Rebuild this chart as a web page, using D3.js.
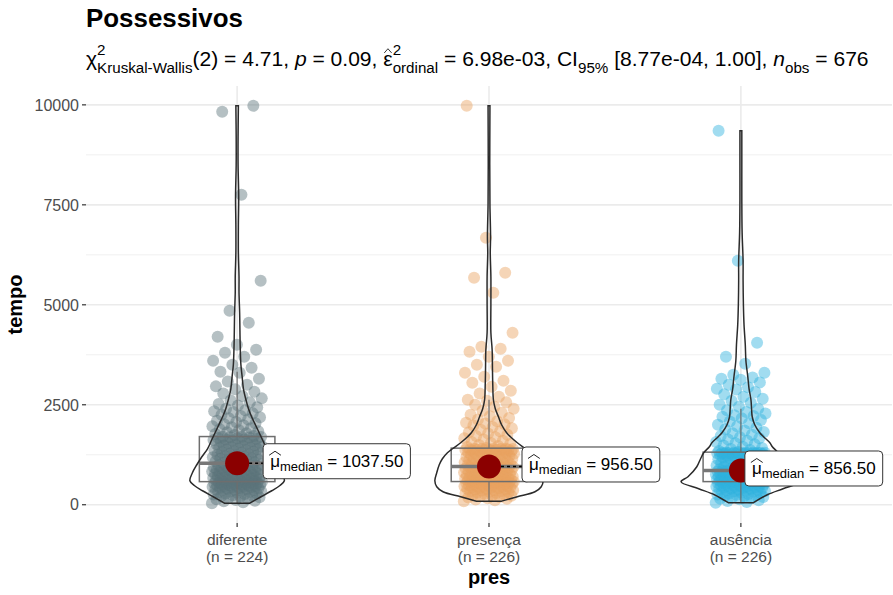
<!DOCTYPE html>
<html>
<head>
<meta charset="utf-8">
<script src="https://cdn.jsdelivr.net/npm/d3@7"></script>
<style>
  body { margin: 0; background: #fff; }
  text { font-family: "Liberation Sans", Arial, sans-serif; white-space: pre; }
</style>
</head>
<body>
<svg id="chart" width="893" height="595"></svg>
<script>
// ---- data ----
const groups = ["diferente", "presença", "ausência"];

const diferente = [
  40, 60, 85, 100, 120, 140, 150, 170, 185, 200, 210, 230, 240, 255, 270, 280, 290, 300, 310, 320,
  330, 340, 350, 360, 370, 375, 385, 395, 400, 410, 420, 425, 435, 440, 450, 455, 460, 470, 475, 480,
  490, 495, 500, 505, 510, 520, 525, 530, 535, 540, 545, 550, 555, 560, 565, 570,
  580, 590, 598, 605, 612, 620, 628, 635, 640, 648, 655, 662, 670, 678, 685, 690, 700, 708, 715, 722,
  730, 738, 745, 752, 760, 768, 775, 782, 790, 800, 808, 815, 822, 830, 840, 848, 855, 862, 870, 880,
  888, 895, 905, 912, 920, 930, 940, 950, 958, 965, 975, 985, 995, 1005, 1015, 1030,
  1045, 1060, 1072, 1085, 1098, 1110, 1122, 1135, 1148, 1160, 1172, 1185, 1198, 1210, 1225, 1238, 1250, 1262, 1275, 1290,
  1302, 1315, 1328, 1340, 1355, 1368, 1380, 1392, 1405, 1420, 1432, 1445, 1458, 1470, 1482, 1495, 1508, 1520, 1532, 1545,
  1558, 1570, 1582, 1595, 1605, 1618, 1630, 1640, 1652, 1662, 1672, 1680, 1688, 1694, 1698, 1700,
  1720, 1745, 1770, 1790, 1815, 1840, 1860, 1885, 1910, 1935, 1960, 1985, 2010, 2040, 2070, 2100, 2130, 2160, 2190, 2220,
  2250, 2285, 2320, 2340, 2360, 2400, 2440, 2480, 2520, 2560, 2610, 2660, 2720, 2780, 2825, 2890, 2960, 3000, 3080, 3150,
  3300, 3325, 3425, 3500, 3600, 3700, 3800, 3875, 4000, 4200, 4550, 4850, 5600, 7750, 9825, 9975
];
const presenca = [
  90, 110, 130, 150, 165, 180, 195, 210, 222, 235, 248, 260, 272, 285, 295, 305, 315, 325, 335, 345,
  355, 362, 370, 378, 386, 394, 402, 410, 418, 425, 432, 440, 447, 454, 461, 468, 475, 482, 489, 496,
  503, 510, 516, 522, 528, 534, 540, 545, 550, 555, 559, 563, 566, 569, 572, 574,
  578, 585, 592, 598, 604, 610, 616, 622, 628, 634, 640, 646, 652, 658, 664, 670, 677, 684, 691, 698,
  705, 712, 719, 726, 733, 740, 748, 756, 764, 772, 780, 788, 796, 804, 812, 820, 828, 836, 844, 852,
  860, 868, 876, 884, 892, 900, 906, 912, 918, 924, 930, 935, 940, 944, 947, 949, 950,
  963, 975, 985, 995, 1005, 1015, 1025, 1035, 1045, 1055, 1065, 1075, 1085, 1095, 1105, 1115, 1125, 1135, 1145, 1155,
  1165, 1175, 1185, 1195, 1205, 1215, 1225, 1235, 1245, 1255, 1265, 1275, 1285, 1292, 1300, 1308, 1315, 1322, 1330, 1337,
  1344, 1350, 1356, 1362, 1368, 1373, 1378, 1382, 1386, 1389, 1392, 1394, 1396, 1398, 1399, 1400,
  1420, 1445, 1470, 1495, 1520, 1545, 1570, 1600, 1630, 1660, 1690, 1720, 1750, 1780, 1810, 1840, 1875, 1910, 1945, 1980,
  2015, 2030, 2050, 2090, 2130, 2170, 2210, 2250, 2300, 2350, 2400, 2450, 2500, 2560, 2600, 2625, 2700, 2780, 2850, 2950,
  3050, 3100, 3200, 3300, 3450, 3500, 3600, 3700, 3825, 3900, 3950, 4300, 5300, 5675, 5800, 6675, 9975
];
const ausencia = [
  50, 70, 95, 115, 135, 150, 165, 180, 195, 210, 222, 235, 247, 258, 270, 282, 293, 304, 315, 325,
  335, 345, 355, 364, 373, 382, 391, 400, 408, 416, 424, 432, 440, 448, 455, 462, 469, 476, 483, 490,
  497, 504, 510, 516, 522, 528, 534, 540, 545, 550, 555, 559, 563, 567, 570, 573,
  577, 582, 587, 592, 597, 602, 607, 612, 617, 622, 627, 632, 637, 642, 647, 652, 658, 664, 670, 676,
  682, 688, 694, 700, 706, 712, 718, 724, 730, 736, 742, 748, 754, 760, 766, 772, 778, 784, 790, 796,
  802, 808, 814, 819, 824, 829, 833, 836, 839, 841, 843, 845, 846, 847, 848, 849, 850,
  863, 875, 887, 899, 911, 923, 935, 947, 959, 971, 983, 995, 1007, 1019, 1031, 1043, 1055, 1067, 1079, 1091,
  1103, 1115, 1127, 1139, 1150, 1160, 1170, 1180, 1190, 1200, 1208, 1216, 1224, 1232, 1240, 1247, 1254, 1260, 1266, 1271,
  1276, 1280, 1284, 1287, 1290, 1292, 1294, 1295, 1296, 1297, 1298, 1299, 1299, 1300, 1300, 1300,
  1320, 1345, 1370, 1395, 1420, 1450, 1480, 1510, 1540, 1570, 1600, 1630, 1660, 1690, 1720, 1750, 1785, 1820, 1855, 1890,
  1925, 1960, 2000, 2040, 2080, 2120, 2160, 2200, 2220, 2240, 2280, 2320, 2360, 2400, 2450, 2500, 2550, 2600, 2650, 2700,
  2760, 2820, 2880, 2900, 2940, 3000, 3060, 3125, 3150, 3180, 3250, 3300, 3525, 3700, 4050, 6100, 9350
];

// violin outlines: [tempo, relative density]
const violinDiferente = [
  [40, 0.2], [200, 0.38], [350, 0.55], [480, 0.68], [600, 0.75], [800, 0.71], [1000, 0.64], [1200, 0.56],
  [1400, 0.47], [1600, 0.41], [1800, 0.35], [2000, 0.29], [2200, 0.23], [2400, 0.18], [2625, 0.14],
  [2900, 0.1], [3200, 0.08], [3500, 0.06], [3900, 0.05], [4300, 0.045], [4800, 0.04], [5300, 0.03],
  [5700, 0.03], [6300, 0.02], [7000, 0.02], [7700, 0.025], [8500, 0.015], [9200, 0.015], [9975, 0.02]
];
const violinPresenca = [
  [90, 0.2], [200, 0.45], [325, 0.73], [450, 0.83], [600, 0.86], [800, 0.83], [1000, 0.79], [1150, 0.74],
  [1300, 0.66], [1400, 0.58], [1550, 0.45], [1700, 0.34], [1800, 0.28], [2000, 0.2], [2200, 0.15],
  [2400, 0.1], [2625, 0.07], [3000, 0.06], [3400, 0.055], [3875, 0.05], [4300, 0.03], [5000, 0.03],
  [5700, 0.03], [6300, 0.02], [6700, 0.025], [7500, 0.015], [8500, 0.012], [9975, 0.015]
];
const violinAusencia = [
  [50, 0.2], [250, 0.42], [400, 0.67], [575, 0.95], [700, 0.84], [950, 0.7], [1150, 0.64], [1300, 0.59],
  [1450, 0.5], [1550, 0.46], [1700, 0.36], [1800, 0.3], [2000, 0.22], [2200, 0.18], [2400, 0.17],
  [2625, 0.16], [2900, 0.13], [3200, 0.11], [3600, 0.08], [4000, 0.07], [4500, 0.05], [5000, 0.04],
  [5600, 0.035], [6100, 0.035], [6800, 0.02], [7600, 0.015], [8500, 0.015], [9350, 0.015]
];

const groupValues = [diferente, presenca, ausencia];
const groupViolins = [violinDiferente, violinPresenca, violinAusencia];
const groupColors = ["#5A737A", "#E8A25F", "#2FB2DE"];
const yTicks = [0, 2500, 5000, 7500, 10000];
const labelDx = [26, 33, 4];   // ggrepel nudges, px

const titleText = "Possessivos";
const subtitleParts = [
  { t: "χ" }, { sup: "2", sub: "Kruskal-Wallis" },
  { t: "(2) = 4.71, " }, { t: "p", italic: true }, { t: " = 0.09, " },
  { t: "ε", hat: true }, { sup: "2", sub: "ordinal" },
  { t: " = 6.98e-03, CI" }, { t: "95%", sub: true },
  { t: " [8.77e-04, 1.00], " }, { t: "n", italic: true }, { t: "obs", sub: true },
  { t: " = 676" }
];

// ---- layout ----
const svg = d3.select("#chart");
const panel = { left: 86, right: 892, top: 86, bottom: 523 };

const x = d3.scalePoint()
  .domain(groups)
  .range([panel.left, panel.right])
  .padding(0.6);

const allVals = groupValues.flat();
const ext = d3.extent(allVals);
const pad = (ext[1] - ext[0]) * 0.05;
const y = d3.scaleLinear()
  .domain([ext[0] - pad, ext[1] + pad])
  .range([panel.bottom, panel.top]);

const wScale = d3.scaleLinear().domain([0, 1]).range([0, x.step() * 0.25]);

// gridlines
const grid = svg.append("g");
const minor = d3.range(yTicks.length - 1).map(i => (yTicks[i] + yTicks[i + 1]) / 2);
grid.selectAll("line.minor").data(minor).enter().append("line")
  .attr("x1", panel.left).attr("x2", panel.right)
  .attr("y1", d => y(d)).attr("y2", d => y(d))
  .attr("stroke", "#F0F0F0").attr("stroke-width", 1);
grid.selectAll("line.major").data(yTicks).enter().append("line")
  .attr("x1", panel.left).attr("x2", panel.right)
  .attr("y1", d => y(d)).attr("y2", d => y(d))
  .attr("stroke", "#EBEBEB").attr("stroke-width", 1.6);
grid.selectAll("line.vx").data(groups).enter().append("line")
  .attr("x1", d => x(d)).attr("x2", d => x(d))
  .attr("y1", panel.top).attr("y2", panel.bottom)
  .attr("stroke", "#EBEBEB").attr("stroke-width", 1.6);

// axes
const yAxis = svg.append("g");
yAxis.selectAll("line").data(yTicks).enter().append("line")
  .attr("x1", panel.left - 4).attr("x2", panel.left)
  .attr("y1", d => y(d)).attr("y2", d => y(d))
  .attr("stroke", "#333").attr("stroke-width", 1.2);
yAxis.selectAll("text").data(yTicks).enter().append("text")
  .attr("x", panel.left - 7).attr("y", d => y(d)).attr("dy", "0.36em")
  .attr("text-anchor", "end").attr("font-size", 16).attr("fill", "#4D4D4D")
  .text(d3.format("d"));

const xAxis = svg.append("g");
xAxis.selectAll("line").data(groups).enter().append("line")
  .attr("x1", d => x(d)).attr("x2", d => x(d))
  .attr("y1", panel.bottom).attr("y2", panel.bottom + 4)
  .attr("stroke", "#333").attr("stroke-width", 1.2);
const xl = xAxis.selectAll("text").data(groups).enter().append("text")
  .attr("text-anchor", "middle").attr("font-size", 15.5).attr("fill", "#4D4D4D");
xl.append("tspan").attr("x", d => x(d)).attr("y", 545).text(d => d);
xl.append("tspan").attr("x", d => x(d)).attr("y", 562)
  .text((d, i) => "(n = " + groupValues[i].length + ")");

svg.append("text").attr("x", x(groups[1])).attr("y", 584)
  .attr("text-anchor", "middle").attr("font-size", 20).attr("font-weight", "bold")
  .text("pres");
svg.append("text").attr("transform", `translate(22, ${(panel.top + panel.bottom) / 2}) rotate(-90)`)
  .attr("text-anchor", "middle").attr("font-size", 20).attr("font-weight", "bold")
  .text("tempo");

// jittered points
const jitterPx = x.step() * 0.1;
const pts = svg.append("g");
groupValues.forEach((vals, gi) => {
  pts.selectAll(null).data(vals).enter().append("circle")
    .attr("cx", (d, i) => x(groups[gi]) + (((i * 0.6180339887) % 1) - 0.5) * 2 * jitterPx)
    .attr("cy", d => y(d))
    .attr("r", 6)
    .attr("fill", groupColors[gi])
    .attr("fill-opacity", 0.45);
});

// boxplots
const boxW = x.step() * 0.3;
const stats = groupValues.map(vals => {
  const s = vals.slice().sort(d3.ascending);
  const q1 = d3.quantile(s, 0.25), med = d3.quantile(s, 0.5), q3 = d3.quantile(s, 0.75);
  const iqr = q3 - q1;
  const lo = d3.min(s.filter(v => v >= q1 - 1.5 * iqr));
  const hi = d3.max(s.filter(v => v <= q3 + 1.5 * iqr));
  return { q1, med, q3, lo, hi };
});
const boxes = svg.append("g");
stats.forEach((s, gi) => {
  const cx = x(groups[gi]);
  boxes.append("line").attr("x1", cx).attr("x2", cx).attr("y1", y(s.q3)).attr("y2", y(s.hi))
    .attr("stroke", "#6E6E6E").attr("stroke-width", 1.2);
  boxes.append("line").attr("x1", cx).attr("x2", cx).attr("y1", y(s.q1)).attr("y2", y(s.lo))
    .attr("stroke", "#6E6E6E").attr("stroke-width", 1.2);
  boxes.append("rect").attr("x", cx - boxW / 2).attr("width", boxW)
    .attr("y", y(s.q3)).attr("height", y(s.q1) - y(s.q3))
    .attr("fill", "none").attr("stroke", "#6E6E6E").attr("stroke-width", 1.5);
  boxes.append("line").attr("x1", cx - boxW / 2).attr("x2", cx + boxW / 2)
    .attr("y1", y(s.med)).attr("y2", y(s.med))
    .attr("stroke", "#777").attr("stroke-width", 3.5);
});

// violins
const violins = svg.append("g");
groupViolins.forEach((prof, gi) => {
  const cx = x(groups[gi]);
  const area = d3.area()
    .y(d => y(d[0]))
    .x0(d => cx - wScale(d[1]))
    .x1(d => cx + wScale(d[1]))
    .curve(d3.curveCatmullRom);
  violins.append("path").attr("d", area(prof))
    .attr("fill", "none").attr("stroke", "#2b2b2b").attr("stroke-width", 1.5);
});

// median points + labels
const fmt = d3.format(".2f");
const lab = svg.append("g");
stats.forEach((s, gi) => {
  const cx = x(groups[gi]);
  const cy = y(s.med);
  const lx = cx + labelDx[gi];
  lab.append("line").attr("x1", cx).attr("x2", lx).attr("y1", cy).attr("y2", cy)
    .attr("stroke", "#000").attr("stroke-width", 1.6).attr("stroke-dasharray", "3,3");
  lab.append("circle").attr("cx", cx).attr("cy", cy).attr("r", 12).attr("fill", "#8B0000");
});
stats.forEach((s, gi) => {
  const cx = x(groups[gi]);
  const lx = cx + labelDx[gi];
  const lcy = y(s.med) - 2;
  const g = lab.append("g");
  const rect = g.append("rect");
  const base = lcy + 6;
  const mu = g.append("text").attr("x", lx + 7).attr("y", base).attr("font-size", 17).text("μ");
  const muW = mu.node().getComputedTextLength();
  g.append("path")
    .attr("d", `M${lx + 6},${base - 12} L${lx + 7 + muW / 2},${base - 16} L${lx + 8 + muW},${base - 12}`)
    .attr("fill", "none").attr("stroke", "#222").attr("stroke-width", 1);
  const sub = g.append("text").attr("x", lx + 7 + muW).attr("y", base + 4).attr("font-size", 13).text("median");
  const subW = sub.node().getComputedTextLength();
  const val = g.append("text").attr("x", lx + 7 + muW + subW).attr("y", base).attr("font-size", 17)
    .text(" = " + fmt(s.med));
  const total = muW + subW + val.node().getComputedTextLength();
  rect.attr("x", lx).attr("y", lcy - 17.5).attr("width", total + 14).attr("height", 35)
    .attr("rx", 4).attr("fill", "#fff").attr("stroke", "#333").attr("stroke-width", 1);
});

// title
const title = svg.append("text").attr("x", 86).attr("y", 27)
  .attr("font-size", 20).attr("font-weight", "bold").text(titleText);
const tw = title.node().getComputedTextLength();
title.attr("font-size", 20 * 157 / tw);

// subtitle (plotmath-like)
const subG = svg.append("g");
function drawRich(fs) {
  subG.selectAll("*").remove();
  const x0 = 86, base = 66;
  let cx = x0;
  subtitleParts.forEach(p => {
    if (p.sup !== undefined) {
      const a = subG.append("text").attr("x", cx).attr("y", base - fs * 0.5).attr("font-size", fs * 0.72).text(p.sup);
      const b = subG.append("text").attr("x", cx).attr("y", base + fs * 0.32).attr("font-size", fs * 0.72).text(p.sub);
      cx += Math.max(a.node().getComputedTextLength(), b.node().getComputedTextLength());
    } else {
      const small = p.sub === true;
      const t = subG.append("text").attr("x", cx)
        .attr("y", small ? base + fs * 0.32 : base)
        .attr("font-size", small ? fs * 0.72 : fs)
        .attr("font-style", p.italic ? "italic" : null)
        .text(p.t);
      const w = t.node().getComputedTextLength();
      if (p.hat) {
        subG.append("path")
          .attr("d", `M${cx + 1},${base - fs * 0.62} L${cx + w / 2},${base - fs * 0.82} L${cx + w - 1},${base - fs * 0.62}`)
          .attr("fill", "none").attr("stroke", "#222").attr("stroke-width", 0.9);
      }
      cx += w;
    }
  });
  return cx - x0;
}
const w16 = drawRich(16);
drawRich(16 * 783 / w16);
</script>
</body>
</html>
